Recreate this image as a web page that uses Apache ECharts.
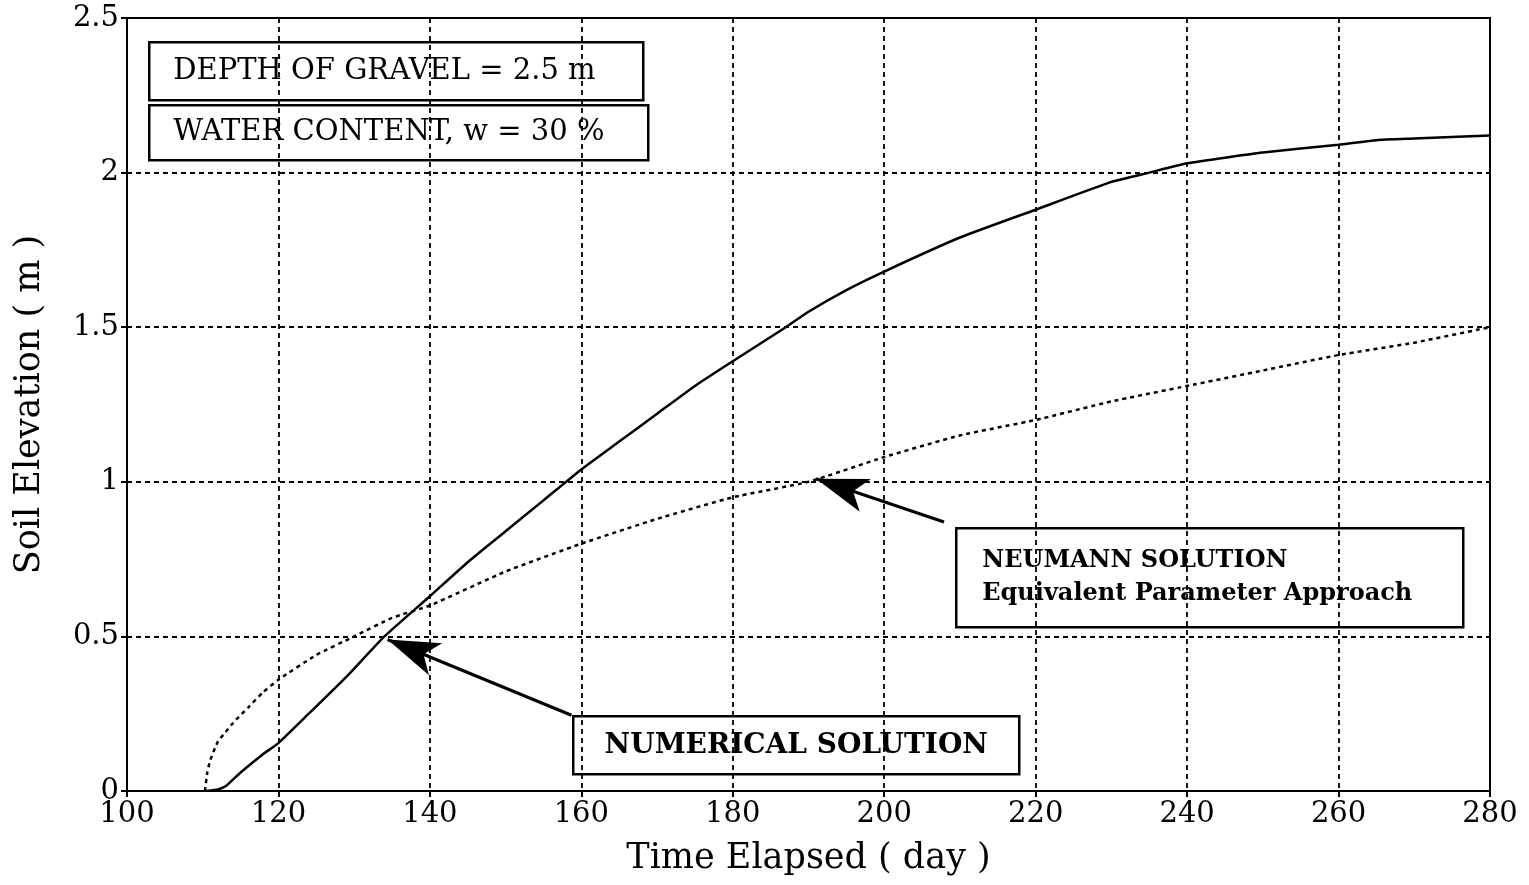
<!DOCTYPE html>
<html>
<head>
<meta charset="utf-8">
<script src="https://cdn.jsdelivr.net/npm/echarts@6/dist/echarts.min.js"></script>
<style>
html,body{margin:0;padding:0;background:#fff;}
#chart{width:1529px;height:885px;}
</style>
</head>
<body>
<div id="chart"></div>
<script>
// ---- data ----
const xTicks = [100, 120, 140, 160, 180, 200, 220, 240, 260, 280];
const yTicks = [0, 0.5, 1, 1.5, 2, 2.5];

const numericalX = [110.5, 112, 113, 115, 118, 120, 124, 129, 134, 140, 145, 150, 155, 160, 165, 170, 175, 180, 187, 190, 195, 200, 210, 220, 230, 235, 240, 250, 260, 265, 270, 280];
const numericalY = [0, 0.005, 0.015, 0.06, 0.12, 0.155, 0.25, 0.37, 0.5, 0.63, 0.74, 0.84, 0.94, 1.04, 1.13, 1.22, 1.31, 1.39, 1.5, 1.55, 1.62, 1.68, 1.79, 1.88, 1.97, 2.0, 2.03, 2.065, 2.09, 2.105, 2.11, 2.12];

const neumannX = [110.3, 110.6, 111, 112, 113, 114, 116, 118, 120, 125, 130, 135, 140, 150, 160, 170, 180, 190, 200, 210, 220, 230, 240, 250, 260, 270, 280];
const neumannY = [0, 0.06, 0.1, 0.16, 0.19, 0.22, 0.27, 0.32, 0.36, 0.44, 0.5, 0.56, 0.6, 0.71, 0.8, 0.88, 0.95, 1.0, 1.08, 1.15, 1.2, 1.26, 1.31, 1.36, 1.41, 1.45, 1.5];

const numericalLabel = 'NUMERICAL SOLUTION';
const neumannLabel1 = 'NEUMANN SOLUTION';
const neumannLabel2 = 'Equivalent Parameter Approach';
const infoLabel1 = 'DEPTH OF GRAVEL = 2.5 m';
const infoLabel2 = 'WATER CONTENT, w = 30 %';

// arrow endpoints in data coordinates [tail, tip]
const numericalArrow = [[158.7, 0.245], [134.4, 0.49]];
const neumannArrow = [[207.9, 0.87], [191.0, 1.01]];

const pair = (xs, ys) => xs.map((x, i) => [x, ys[i]]);

const SERIF = '"DejaVu Serif", "Liberation Serif", serif';
const chart = echarts.init(document.getElementById('chart'));

function box(left, top, w, h, lines, font, weight, lineGap, padLeft) {
  const children = [{
    type: 'rect', shape: {x: 0, y: 0, width: w, height: h},
    style: {fill: '#fff', stroke: '#000', lineWidth: 2.5}
  }];
  lines.forEach((t, i) => {
    children.push({
      type: 'text',
      style: {
        text: t, x: padLeft == null ? w / 2 : padLeft, y: h / 2 + (i - (lines.length - 1) / 2) * lineGap,
        align: padLeft == null ? 'center' : 'left', verticalAlign: 'middle',
        font: weight + ' ' + font + 'px ' + SERIF, fill: '#000'
      }
    });
  });
  return {type: 'group', left: left, top: top, z: 100, children: children};
}

const option = {
  backgroundColor: '#fff',
  animation: false,
  grid: {left: 127, right: 39, top: 18, bottom: 94, show: true, borderColor: '#000', borderWidth: 2, backgroundColor: 'transparent'},
  xAxis: {
    type: 'value', min: 100, max: 280, interval: 20,
    name: 'Time Elapsed ( day )', nameLocation: 'middle', nameGap: 50,
    nameTextStyle: {fontFamily: SERIF, fontSize: 35, color: '#000'},
    axisLine: {show: true, lineStyle: {color: '#000', width: 2}},
    axisTick: {show: true, length: 6, lineStyle: {color: '#000', width: 2}},
    axisLabel: {color: '#000', fontFamily: SERIF, fontSize: 29, margin: 9,
      formatter: v => xTicks.includes(v) ? String(v) : ''},
    splitLine: {show: true, lineStyle: {color: '#000', width: 1.8, type: [5, 4]}}
  },
  yAxis: {
    type: 'value', min: 0, max: 2.5, interval: 0.5,
    name: 'Soil Elevation ( m )', nameLocation: 'middle', nameGap: 80, nameRotate: 90,
    nameTextStyle: {fontFamily: SERIF, fontSize: 35, color: '#000'},
    axisLine: {show: true, lineStyle: {color: '#000', width: 2}},
    axisTick: {show: true, length: 6, lineStyle: {color: '#000', width: 2}},
    axisLabel: {color: '#000', fontFamily: SERIF, fontSize: 29, margin: 8,
      formatter: v => yTicks.includes(v) ? String(v) : ''},
    splitLine: {show: true, lineStyle: {color: '#000', width: 1.8, type: [5, 4]}}
  },
  series: [
    {
      name: 'Numerical', type: 'line', data: pair(numericalX, numericalY),
      showSymbol: false, smooth: 0.15, lineStyle: {color: '#000', width: 2.5}, z: 5,
      markLine: {
        silent: true, symbol: ['none', 'arrow'], symbolSize: [26, 52],
        label: {show: false},
        lineStyle: {color: '#000', width: 3, type: 'solid'},
        data: [
          [{coord: numericalArrow[0]}, {coord: numericalArrow[1]}],
          [{coord: neumannArrow[0]}, {coord: neumannArrow[1]}]
        ]
      }
    },
    {
      name: 'Neumann', type: 'line', data: pair(neumannX, neumannY),
      showSymbol: false, smooth: 0.15, lineStyle: {color: '#000', width: 2.5, type: [4, 4]}, z: 5
    }
  ],
  graphic: [
    box(148, 41, 494, 58, [infoLabel1], 29, 'normal', 0, 24),
    box(148, 104, 499, 55, [infoLabel2], 29, 'normal', 0, 24),
    box(572, 715, 446, 58, [numericalLabel], 28, 'bold', 0, null),
    box(955, 527, 507, 99, [neumannLabel1, neumannLabel2], 24, 'bold', 33, 26)
  ]
};
chart.setOption(option);
</script>
</body>
</html>
